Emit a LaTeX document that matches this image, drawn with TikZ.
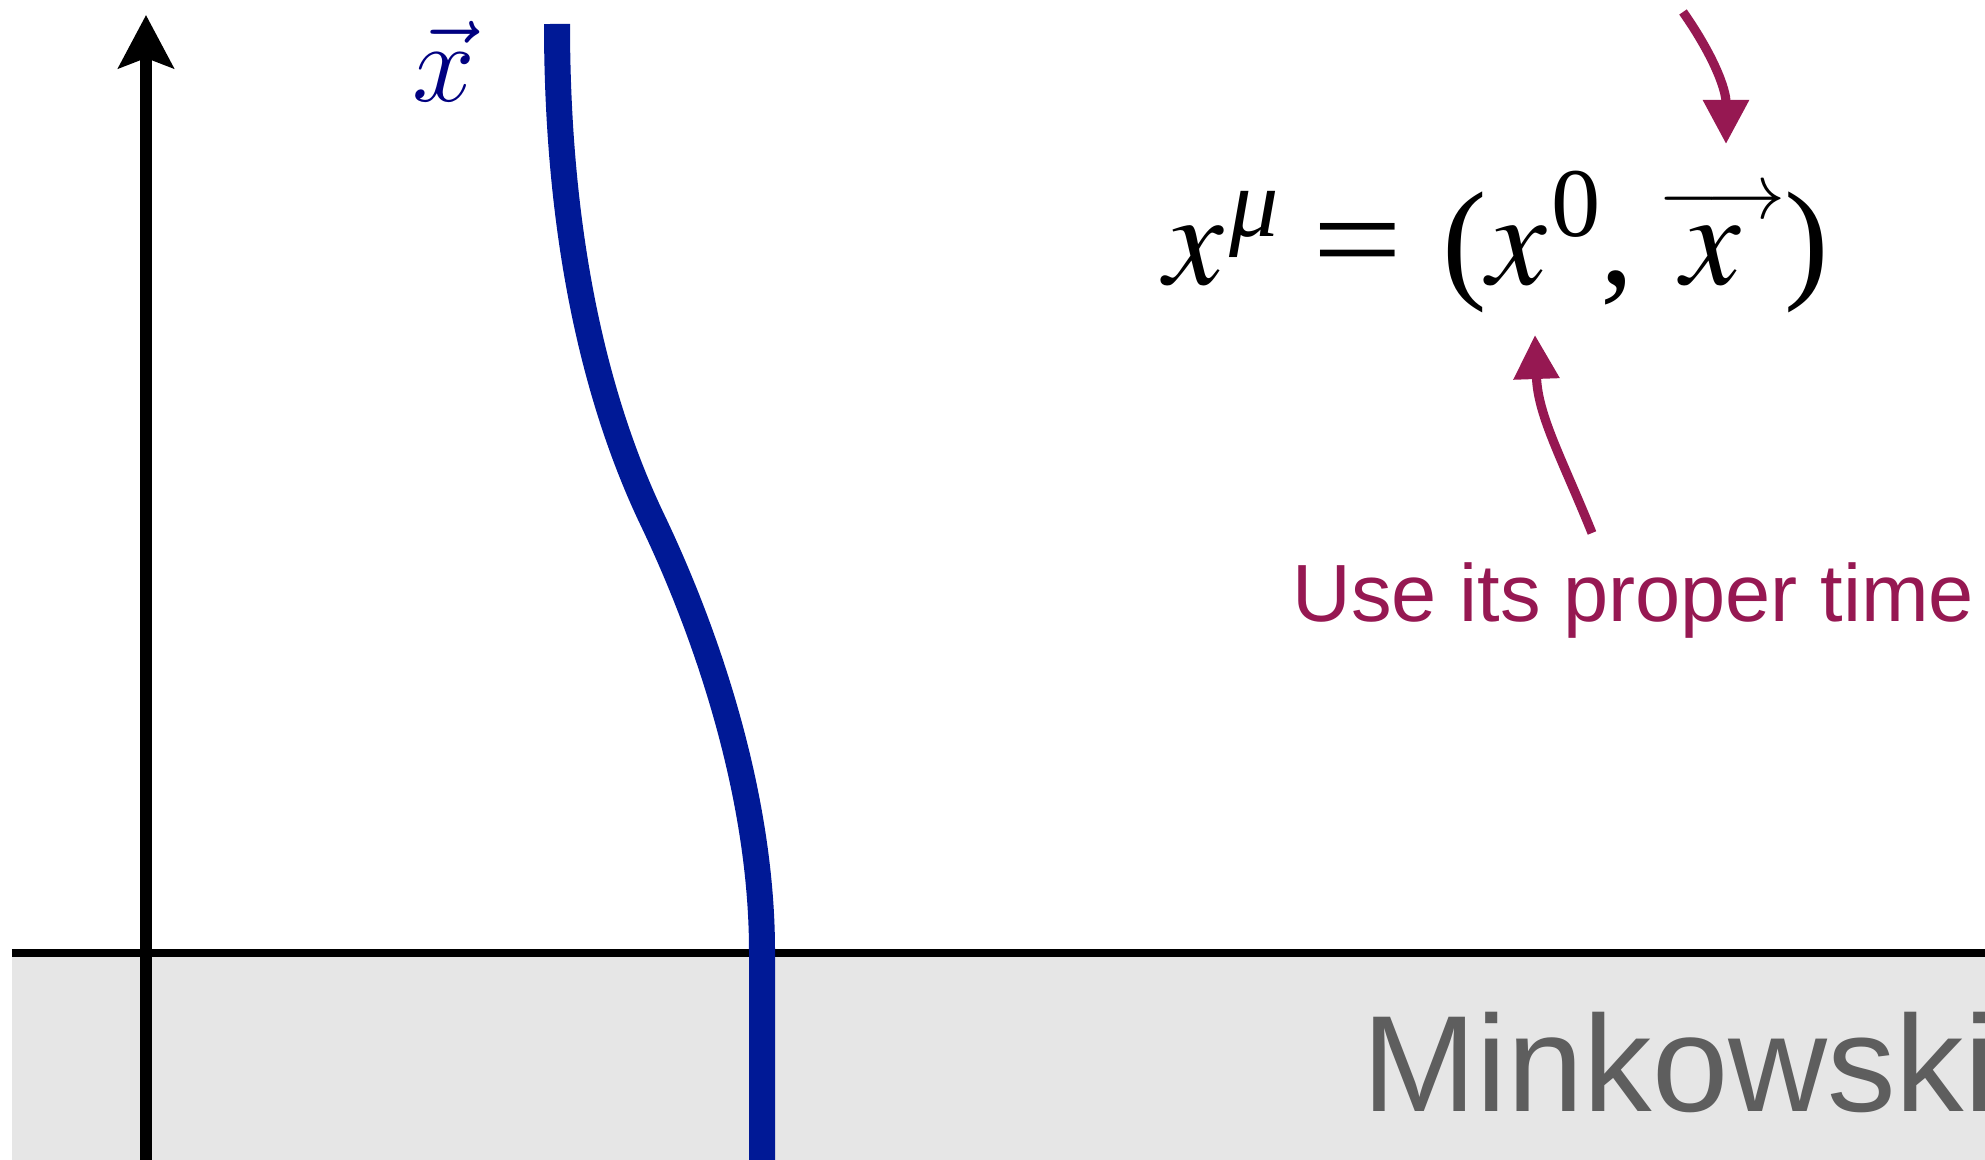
\documentclass[tikz,border=0pt]{standalone}
\usepackage{fix-cm}
\usepackage{fontspec}
\usepackage{amsmath}
\usetikzlibrary{arrows.meta,positioning}
\newfontfamily\helv{Liberation Sans}
\newfontfamily\eqfont{Liberation Serif}
\newcommand{\tmx}{{\fontencoding{OT1}\fontfamily{ptm}\fontshape{it}\selectfont x}}
\newcommand{\supr}[1]{\raisebox{0.36em}{\fontsize{28}{28}\selectfont #1}}
\definecolor{worldblue}{RGB}{0,25,150}
\definecolor{labelblue}{RGB}{0,0,128}
\definecolor{plum}{RGB}{150,24,82}
\definecolor{floorgray}{RGB}{230,230,230}
\definecolor{textgray}{RGB}{94,94,94}

\begin{document}
\begin{tikzpicture}[
    magarrow/.style={draw=plum, line width=2.6pt, -{Triangle[length=4.4mm, width=4.4mm]}},
    bigtext/.style={inner sep=0pt, anchor=base west}]
    \useasboundingbox (0,0) rectangle (19.85,11.6);
    \clip (0,0) rectangle (19.85,11.6);

    % floor and axes
    \fill[floorgray] (0.12,0) rectangle (19.85,2.07);
    \draw[line width=2.3pt] (0.12,2.07) -- (19.85,2.07);
    \draw[line width=3.4pt, -{Stealth[length=5.3mm, width=5.5mm, inset=1.0mm]}] (1.46,0) -- (1.46,11.45);

    % worldline
    \draw[worldblue, line width=7.4pt] (5.57,11.36) .. controls (5.57,9.10) and (6.00,7.50) .. (6.52,6.41)
        .. controls (7.10,5.20) and (7.62,3.60) .. (7.62,2.09) -- (7.62,0);
    \node[text=labelblue, inner sep=0pt, anchor=base, font=\fontsize{32}{38}\selectfont] (xlabel) at (4.44,10.58) {$\vec{x}$};

    % four-vector
    \node[bigtext, font=\eqfont\fontsize{38}{44}\selectfont] (fourvec) at (11.64,8.75)
        {\tmx\kern0.04em\supr{\itshape μ}\kern0.25em\scalebox{1.2}[1]{=}\kern0.3em(\tmx\kern0.04em\supr{0},\kern0.35em\makebox[0pt][l]{\kern-0.17em\raisebox{0.5em}{\fontsize{22.5}{22.5}\selectfont$\longrightarrow$}}\tmx\kern0.33em)};
    \node[bigtext, text=plum, font=\helv\fontsize{23.1}{28}\selectfont] (proper) at (12.92,5.38) {Use its proper time};
    \node[bigtext, text=textgray, font=\helv\fontsize{39}{47}\selectfont] (mink) at (13.62,0.48) {Minkowski};

    \coordinate (topstart) at (16.83,11.48);
    \coordinate (vectip) at (17.26,10.16);
    \coordinate (propstart) at (15.92,6.27);
    \coordinate (timetip) at (15.35,8.25);
    \draw[magarrow] (topstart) to[out=-55, in=90] (vectip);
    \draw[magarrow] (propstart) to[out=112, in=-88] (timetip);
\end{tikzpicture}
\end{document}
